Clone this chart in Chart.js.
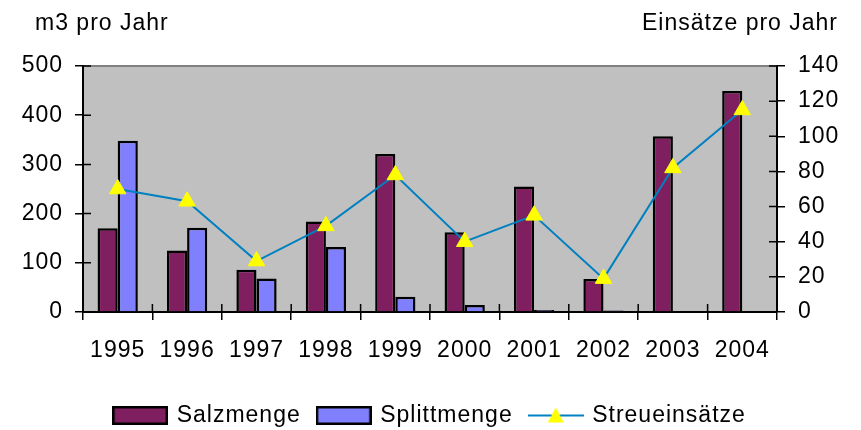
<!DOCTYPE html>
<html>
<head>
<meta charset="utf-8">
<script src="https://cdn.jsdelivr.net/npm/chart.js@4/dist/chart.umd.min.js"></script>
<style>
  html, body { margin: 0; padding: 0; background: #fff; }
  #wrap { width: 861px; height: 430px; }
</style>
</head>
<body>
<div id="wrap"><canvas id="chart"></canvas></div>
<script>
(function () {
  "use strict";

  const years = ["1995", "1996", "1997", "1998", "1999", "2000", "2001", "2002", "2003", "2004"];
  const salzmenge = [170, 125, 86, 184, 321, 162, 255, 67, 357, 449];
  const splittmenge = [348, 171, 68, 132, 31, 14, 4, 3, 0, 0];
  const streueinsaetze = [70, 63, 29, 49, 78, 40, 55, 19, 82, 115];

  const LEFT_MAX = 500;
  const LEFT_STEP = 100;
  const RIGHT_MAX = 140;
  const RIGHT_STEP = 20;

  const LEFT_TITLE = "m3 pro Jahr";
  const RIGHT_TITLE = "Einsätze pro Jahr";

  const SALZ_COLOR = "#7f1f5f";
  const SPLITT_COLOR = "#8080ff";
  const LINE_COLOR = "#0080c0";
  const MARKER_COLOR = "#ffff00";
  const PLOT_BG = "#c0c0c0";
  const FONT = { family: "'Liberation Sans', Arial, sans-serif", size: 23 };
  const FONT_CSS = "23px 'Liberation Sans', Arial, sans-serif";

  function boxIcon(color) {
    const c = document.createElement("canvas");
    c.width = 56;
    c.height = 19;
    const g = c.getContext("2d");
    g.fillStyle = color;
    g.fillRect(1, 1, 54, 17);
    g.strokeStyle = "#000";
    g.lineWidth = 2.5;
    g.strokeRect(1.25, 1.25, 53.5, 16.5);
    return c;
  }

  function lineIcon() {
    const c = document.createElement("canvas");
    c.width = 56;
    c.height = 20;
    const g = c.getContext("2d");
    g.strokeStyle = LINE_COLOR;
    g.lineWidth = 2;
    g.beginPath();
    g.moveTo(0, 10);
    g.lineTo(56, 10);
    g.stroke();
    g.fillStyle = MARKER_COLOR;
    g.beginPath();
    g.moveTo(28, 2);
    g.lineTo(36, 17);
    g.lineTo(20, 17);
    g.closePath();
    g.fill();
    return c;
  }

  const spacing = {
    id: "spacing",
    beforeUpdate(chart) { chart.ctx.letterSpacing = "1px"; },
    beforeDraw(chart) { chart.ctx.letterSpacing = "1px"; },
  };

  const plotBackground = {
    id: "plotBackground",
    beforeDraw(chart) {
      const a = chart.chartArea;
      const ctx = chart.ctx;
      ctx.save();
      ctx.fillStyle = PLOT_BG;
      ctx.fillRect(a.left, a.top, a.right - a.left, a.bottom - a.top);
      ctx.strokeStyle = "#808080";
      ctx.lineWidth = 2;
      ctx.beginPath();
      ctx.moveTo(a.left, a.top);
      ctx.lineTo(a.right, a.top);
      ctx.stroke();
      ctx.restore();
    },
  };

  const innerTicks = {
    id: "innerTicks",
    afterDraw(chart) {
      const ctx = chart.ctx;
      const a = chart.chartArea;
      const L = 8;
      const y = chart.scales.y;
      const y1 = chart.scales.y1;
      const x = chart.scales.x;
      ctx.save();
      ctx.strokeStyle = "#000";
      ctx.lineWidth = 1.5;
      ctx.beginPath();
      y.ticks.forEach(function (t, i) {
        const py = y.getPixelForTick(i);
        ctx.moveTo(a.left, py);
        ctx.lineTo(a.left + L, py);
      });
      y1.ticks.forEach(function (t, i) {
        const py = y1.getPixelForTick(i);
        ctx.moveTo(a.right, py);
        ctx.lineTo(a.right - L, py);
      });
      for (let i = 1; i < years.length; i++) {
        const px = x.getPixelForValue(i - 0.5);
        ctx.moveTo(px, a.bottom);
        ctx.lineTo(px, a.bottom - L);
      }
      ctx.stroke();

      ctx.fillStyle = "#000";
      ctx.font = FONT_CSS;
      ctx.textBaseline = "alphabetic";
      ctx.textAlign = "left";
      ctx.fillText(LEFT_TITLE, 35, 30);
      ctx.textAlign = "right";
      ctx.fillText(RIGHT_TITLE, 838, 30);
      ctx.restore();
    },
  };

  const legendIcons = [boxIcon(SALZ_COLOR), boxIcon(SPLITT_COLOR), lineIcon()];

  new Chart(document.getElementById("chart"), {
    data: {
      labels: years,
      datasets: [
        {
          type: "bar",
          label: "Salzmenge",
          data: salzmenge,
          yAxisID: "y",
          backgroundColor: SALZ_COLOR,
          borderColor: "#000",
          borderWidth: 2.5,
          barPercentage: 1,
          categoryPercentage: 0.58,
          order: 1,
        },
        {
          type: "bar",
          label: "Splittmenge",
          data: splittmenge,
          yAxisID: "y",
          backgroundColor: SPLITT_COLOR,
          borderColor: "#000",
          borderWidth: 2.5,
          barPercentage: 1,
          categoryPercentage: 0.58,
          order: 1,
        },
        {
          type: "line",
          label: "Streueinsätze",
          data: streueinsaetze,
          yAxisID: "y1",
          borderColor: LINE_COLOR,
          borderWidth: 2,
          tension: 0,
          pointStyle: "triangle",
          pointRadius: 9.5,
          pointBackgroundColor: MARKER_COLOR,
          pointBorderColor: MARKER_COLOR,
          pointBorderWidth: 1,
          order: 0,
        },
      ],
    },
    options: {
      responsive: true,
      maintainAspectRatio: false,
      animation: false,
      layout: { padding: { top: 66, left: 0, right: 0, bottom: -7 } },
      plugins: {
        tooltip: { enabled: false },
        legend: {
          position: "bottom",
          labels: {
            color: "#000",
            font: FONT,
            usePointStyle: true,
            pointStyleWidth: 50,
            padding: 18,
            generateLabels: function (chart) {
              return chart.data.datasets.map(function (ds, i) {
                return {
                  text: ds.label,
                  pointStyle: legendIcons[i],
                  datasetIndex: i,
                  hidden: false,
                  fontColor: "#000",
                  lineWidth: 0,
                };
              });
            },
          },
        },
      },
      scales: {
        x: {
          grid: {
            drawOnChartArea: false,
            tickLength: 8,
            color: "#000",
            lineWidth: 1.5,
            offset: true,
          },
          border: { color: "#000", width: 2 },
          ticks: { color: "#000", font: FONT, padding: 17, maxRotation: 0, autoSkip: false },
          afterFit: function (s) { s.height = 74; },
        },
        y: {
          position: "left",
          min: 0,
          max: LEFT_MAX,
          ticks: { stepSize: LEFT_STEP, color: "#000", font: FONT, padding: 12 },
          grid: { drawOnChartArea: false, tickLength: 8, color: "#000", lineWidth: 1.5 },
          border: { color: "#000", width: 2 },
          afterFit: function (s) { s.width = 83; },
        },
        y1: {
          position: "right",
          min: 0,
          max: RIGHT_MAX,
          ticks: { stepSize: RIGHT_STEP, color: "#000", font: FONT, padding: 13 },
          grid: { drawOnChartArea: false, tickLength: 8, color: "#000", lineWidth: 1.5 },
          border: { color: "#000", width: 2 },
          afterFit: function (s) { s.width = 84; },
        },
      },
    },
    plugins: [spacing, plotBackground, innerTicks],
  });
})();
</script>
</body>
</html>
